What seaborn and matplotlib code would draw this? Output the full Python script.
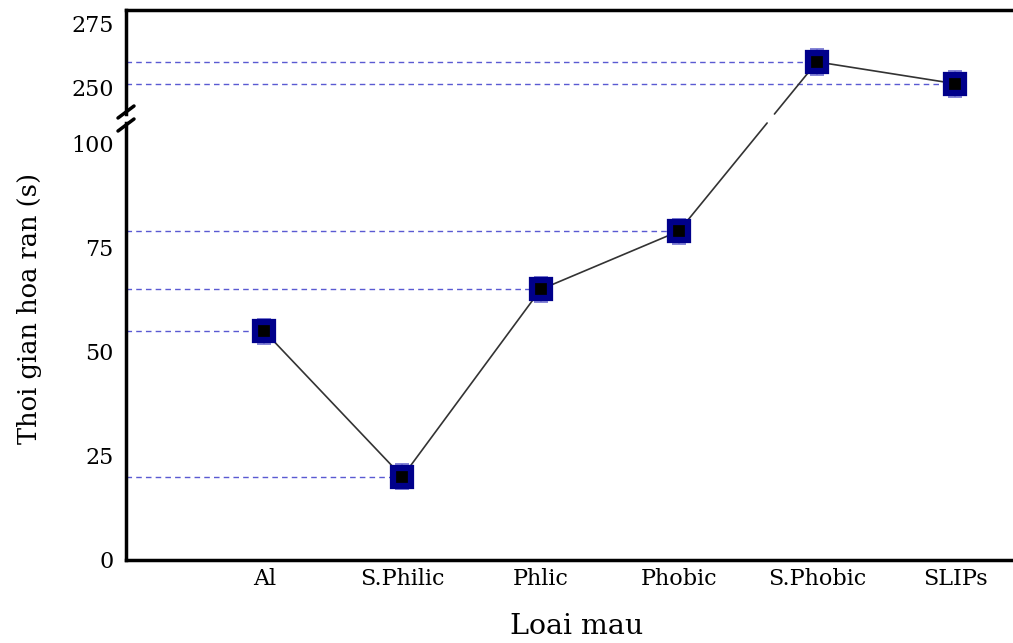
import matplotlib
matplotlib.use("Agg")
import matplotlib.pyplot as plt
from matplotlib.transforms import IdentityTransform
import seaborn as sns
import numpy as np
import pandas as pd

categories = ["Al", "S.Philic", "Phlic", "Phobic", "S.Phobic", "SLIPs"]
values = [55, 20, 65, 79, 260, 251.5]
errors = [3, 3, 3, 3, 5, 5]
bottom_ticks = [0, 25, 50, 75, 100]
top_ticks = [250, 275]
break_low, break_high = 105, 239.7

sns.set_style("white")
plt.rcParams['font.family'] = ['DejaVu Serif']
plt.rcParams['text.color'] = 'black'

positions = np.arange(1, len(categories) + 1)
df = pd.DataFrame({"pos": positions, "val": values, "err": errors, "cat": categories})
df_low = df[df["val"] <= break_low]
df_high = df[df["val"] >= break_high]

fig = plt.figure(figsize=(10.13, 6.43), dpi=100)
W, H = 1013, 643
left_px = 126
step_px = 138.2
xmax = 6.5
right_px = left_px + xmax * step_px
ax_b = fig.add_axes([left_px / W, (H - 560) / H, (right_px - left_px) / W, (560 - 123) / H])
ax_t = fig.add_axes([left_px / W, (H - 114) / H, (right_px - left_px) / W, (114 - 10) / H])

dash_col = "#5a5ad2"
err_col = "#7070d0"
for ax, d in ((ax_b, df_low), (ax_t, df_high)):
    ax.set_xlim(0, xmax)
    ax.hlines(df["val"], xmin=0, xmax=df["pos"], colors=dash_col, linestyles=(0, (4, 3)),
              linewidth=1.0, zorder=1)
    sns.lineplot(data=d, x="pos", y="val", ax=ax, color="#333333", linewidth=1.2,
                 sort=False, zorder=2, legend=False)
    ax.errorbar(df["pos"], df["val"], yerr=df["err"], fmt="none", ecolor=err_col,
                elinewidth=1.2, capsize=5, capthick=1.2, zorder=3)
    ax.plot(df["pos"], df["val"], linestyle="none", marker="s", markersize=13,
            markerfacecolor="black", markeredgecolor="#00008b", markeredgewidth=4.5, zorder=4)
    ax.set_xlabel("")
    ax.set_ylabel("")
    for s in ("left", "bottom", "top", "right"):
        ax.spines[s].set_linewidth(2.5)
        ax.spines[s].set_color("black")
    ax.tick_params(axis="both", direction="in", length=7, width=2, labelsize=16,
                   color="black", labelcolor="black")
    ax.tick_params(axis="y", pad=9)

ax_b.set_ylim(0, break_low)
ax_b.set_yticks(bottom_ticks)
ax_b.spines["top"].set_visible(False)
ax_b.spines["right"].set_visible(False)
ax_b.set_xticks(positions)
ax_b.set_xticklabels(categories)
ax_b.tick_params(axis="x", pad=6)

ax_t.set_ylim(break_high, 280.2)
ax_t.set_yticks(top_ticks)
ax_t.spines["bottom"].set_visible(False)
ax_t.spines["right"].set_visible(False)
ax_t.set_xticks([])

# connecting segment across the break, drawn in screen space within each axes
last_low = df_low.iloc[-1]
first_high = df_high.iloc[0]
p1 = ax_b.transData.transform((last_low["pos"], last_low["val"]))
p2 = ax_t.transData.transform((first_high["pos"], first_high["val"]))
yb = ax_b.bbox.y1
yt = ax_t.bbox.y0
def at_y(y):
    t = (y - p1[1]) / (p2[1] - p1[1])
    return p1[0] + t * (p2[0] - p1[0])
for ax, a, b in ((ax_b, p1, (at_y(yb), yb)), (ax_t, (at_y(yt), yt), p2)):
    ax.add_line(plt.Line2D([a[0], b[0]], [a[1], b[1]], color="#333333", linewidth=1.2,
                           transform=IdentityTransform(), zorder=2, clip_on=False))

# break marks on left spine
kw = dict(color="black", linewidth=2.5, clip_on=False, transform=fig.transFigure)
bx = left_px / W
for yp in (112, 125):
    y = (H - yp) / H
    fig.add_artist(plt.Line2D([bx - 8 / W, bx + 8 / W], [y - 6 / H, y + 6 / H], **kw))

fig.text(30 / W, (H - 308) / H, "Thoi gian hoa ran (s)", rotation=90, ha="center",
         va="center", fontsize=18.5, color="black")
fig.text(577 / W, (H - 627) / H, "Loai mau", ha="center", va="center", fontsize=20.5,
         color="black")

fig.savefig("out.png", dpi=100)
